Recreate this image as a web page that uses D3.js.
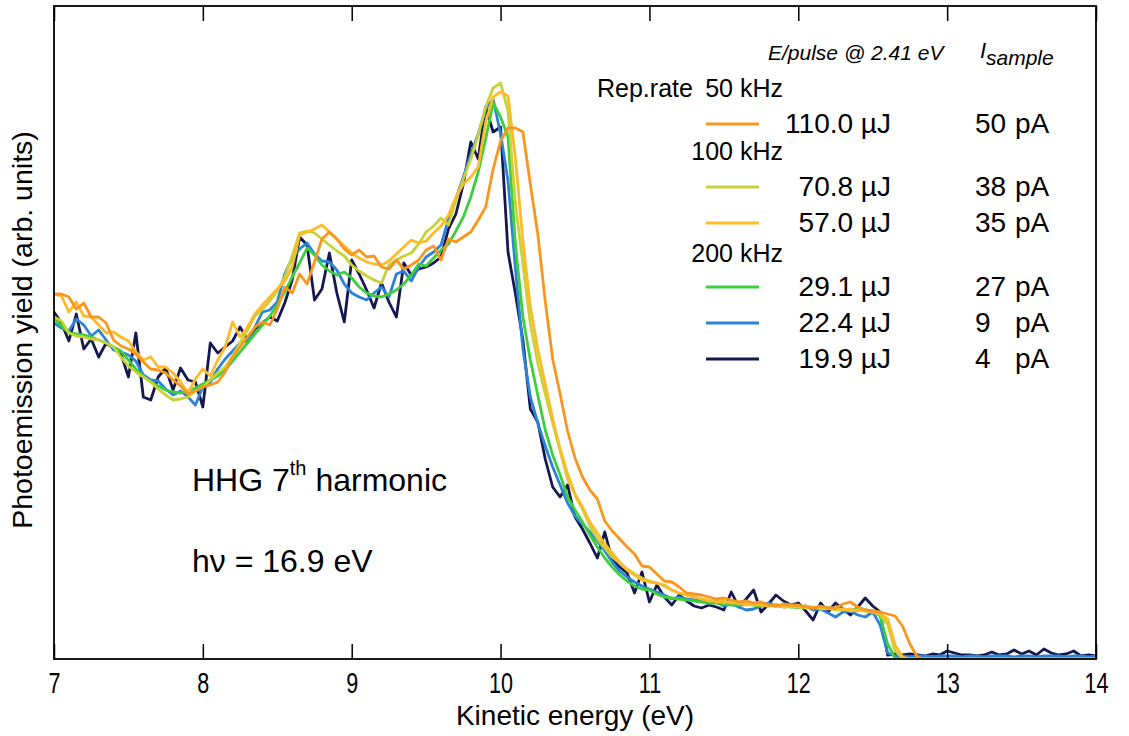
<!DOCTYPE html>
<html lang="en">
<head>
<meta charset="UTF-8">
<title>HHG 7th harmonic photoemission</title>
<script src="https://cdn.jsdelivr.net/npm/d3@7"></script>
<style>
  body { margin: 0; background: #fff; }
  svg { display: block; font-family: "Liberation Sans", Arial, sans-serif; }
</style>
</head>
<body>
<svg id="chart" width="1129" height="736"></svg>
<script>
  // spectra sampled every 0.05 eV from 7 to 14 eV (arb. units)
  const energyStart = 7, energyStep = 0.05;

  const yield110 = [
    365,365,362,350,356,342,342,336,319,313,310,305,297,290,289,286,279,273,265,268,
    272,274,277,287,302,312,322,332,337,334,350,372,366,385,375,397,420,427,420,410,
    404,409,402,403,392,390,399,390,394,399,409,413,399,420,417,422,427,439,452,490,
    518,531,531,527,475,425,358,300,265,228,201,182,169,160,138,128,120,112,105,93,
    92,85,78,77,72,66,65,64,62,60,61,59,57,58,56,57,54,53,55,54,
    54,52,51,53,51,51,55,57,52,49,48,47,45,43,33,15,2,0,0,0,
    0,0,0,0,0,0,0,0,0,0,0,0,0,0,0,0,0,0,0,0,0];
  const yield708 = [
    342,338,326,323,322,320,319,316,312,302,293,287,282,277,270,264,259,260,262,268,
    272,279,286,292,303,316,329,343,350,358,368,382,403,426,428,426,420,414,408,403,
    394,388,383,379,376,394,399,403,406,415,427,433,441,434,459,480,500,524,552,571,
    576,548,455,395,335,296,265,236,208,180,164,150,133,120,111,102,96,90,85,81,
    78,76,73,69,66,64,62,60,58,59,56,58,55,56,54,55,53,54,52,53,
    52,51,52,50,51,49,50,48,49,48,47,44,35,8,1,0,0,0,0,0,
    0,0,0,0,0,0,0,0,0,0,0,0,0,0,0,0,0,0,0,0,0];
  const yield570 = [
    365,363,347,357,343,342,334,326,327,322,318,307,299,302,292,292,286,277,266,280,
    290,283,299,312,337,322,332,345,354,362,370,378,392,424,427,430,434,427,420,413,
    406,401,397,395,394,398,405,412,419,416,418,426,433,444,462,475,482,492,537,562,
    567,563,500,418,352,310,275,240,210,185,165,152,137,126,115,106,97,89,84,79,
    77,76,74,69,66,64,62,60,59,57,58,56,57,54,55,54,53,55,52,53,
    52,53,51,52,50,51,49,50,48,49,47,45,40,14,2,0,0,0,0,0,
    0,0,0,0,0,0,0,0,0,0,0,0,0,0,0,0,0,0,0,0,0];
  const yield291 = [
    341,333,326,325,324,322,319,316,312,308,299,290,283,277,273,269,267,266,268,271,
    275,279,283,289,298,307,316,325,334,343,354,367,382,396,411,404,394,388,384,387,
    381,372,366,363,362,365,369,375,384,395,393,401,409,415,428,442,462,487,520,556,
    542,522,414,342,299,264,229,204,184,162,149,137,124,112,101,92,84,78,73,70,
    69,65,62,61,60,59,58,57,56,56,55,54,54,55,54,53,54,53,53,52,
    52,53,51,52,51,50,50,49,50,49,48,43,15,1,0,0,0,0,0,0,
    0,0,0,0,0,0,0,0,0,0,0,0,0,0,0,0,0,0,0,0,0];
  const yield224 = [
    336,331,328,340,334,323,329,319,309,307,304,298,284,279,278,270,264,268,262,254,
    272,277,290,300,308,316,318,332,347,349,357,385,401,410,416,405,398,397,389,375,
    366,362,359,366,372,362,385,388,378,392,402,407,414,440,460,482,505,525,550,560,
    525,478,390,310,262,236,213,192,174,156,143,135,127,118,108,97,88,82,77,73,
    70,67,64,60,62,60,59,59,56,57,53,55,52,49,50,53,56,54,52,53,
    51,53,49,50,46,42,47,48,44,42,47,34,6,3,3,2,3,3,2,3,
    3,3,2,3,3,2,3,3,3,2,3,3,2,3,3,3,2,3,3,2,3];
  const yield199 = [
    347,336,318,345,310,320,302,316,311,305,282,326,262,259,282,291,269,291,279,277,
    252,316,306,312,318,332,319,330,336,342,338,356,379,422,414,359,370,406,366,337,
    399,385,369,351,376,357,342,396,384,390,392,396,402,430,445,475,517,500,552,527,
    532,407,365,319,250,237,200,172,162,174,142,130,116,101,127,99,92,86,66,87,
    57,74,62,54,64,58,53,51,54,52,49,67,52,60,69,47,55,64,58,54,
    56,48,39,56,47,56,50,44,52,61,53,47,4,5,4,5,4,3,5,4,
    8,6,4,4,3,4,7,4,5,9,5,8,4,10,6,4,5,8,3,4,3];

  const pulseEnergy = ["110.0 µJ", "70.8 µJ", "57.0 µJ", "29.1 µJ", "22.4 µJ", "19.9 µJ"];
  const sampleCurrent = ["50", "38", "35", "27", "9", "4"];
  const repRates = ["50 kHz", "100 kHz", "200 kHz"];
  const lineColors = ["#f8961e", "#c6d236", "#fdbb2a", "#3dce3d", "#2b83d8", "#15174f"];
  const xTicks = [7, 8, 9, 10, 11, 12, 13, 14];

  const series = [yield110, yield708, yield570, yield291, yield224, yield199];
  const energies = d3.range(yield110.length).map(i => energyStart + i * energyStep);

  const svg = d3.select("#chart");
  const plotLeft = 54, plotRight = 1096, plotTop = 6, plotBottom = 659;

  const x = d3.scaleLinear().domain([7, 14]).range([plotLeft, plotRight]);
  const y = d3.scaleLinear().domain([0, 653]).range([plotBottom, plotTop]);

  svg.append("rect").attr("width", 1129).attr("height", 736).attr("fill", "#fff");

  svg.append("clipPath").attr("id", "plot-clip")
    .append("rect").attr("x", plotLeft).attr("y", plotTop)
    .attr("width", plotRight - plotLeft).attr("height", plotBottom - plotTop);

  // spectra, navy first so the high-power curves sit on top
  const line = d3.line()
    .x((d, i) => x(energies[i]))
    .y(d => y(d));

  const order = [5, 4, 3, 1, 2, 0];
  svg.append("g").attr("clip-path", "url(#plot-clip)")
    .selectAll("path")
    .data(order)
    .join("path")
    .attr("d", k => line(series[k]))
    .attr("fill", "none")
    .attr("stroke", k => lineColors[k])
    .attr("stroke-width", 2.8)
    .attr("stroke-linejoin", "round");

  // axes
  const xAxis = svg.append("g")
    .attr("transform", `translate(0,${plotBottom})`)
    .call(d3.axisBottom(x).tickValues(xTicks).tickFormat(d3.format("d"))
      .tickSizeInner(-15).tickSizeOuter(0).tickPadding(13));
  xAxis.select(".domain").remove();
  xAxis.selectAll("line").attr("stroke", "#000").attr("stroke-width", 1.5);
  xAxis.selectAll("text")
    .attr("font-size", 30)
    .attr("font-family", "Liberation Sans, Arial, sans-serif")
    .attr("fill", "#000")
    .attr("transform", "scale(0.72,1)");

  const topAxis = svg.append("g")
    .attr("transform", `translate(0,${plotTop})`)
    .call(d3.axisTop(x).tickValues(xTicks).tickSizeInner(-15).tickSizeOuter(0).tickFormat(""));
  topAxis.select(".domain").remove();
  topAxis.selectAll("line").attr("stroke", "#000").attr("stroke-width", 1.5);

  svg.append("rect")
    .attr("x", plotLeft).attr("y", plotTop)
    .attr("width", plotRight - plotLeft).attr("height", plotBottom - plotTop)
    .attr("fill", "none").attr("stroke", "#000").attr("stroke-width", 1.8);

  svg.append("text")
    .attr("x", (plotLeft + plotRight) / 2).attr("y", 725)
    .attr("text-anchor", "middle").attr("font-size", 28)
    .text("Kinetic energy (eV)");

  svg.append("text")
    .attr("transform", "rotate(-90)")
    .attr("x", -330).attr("y", 32)
    .attr("text-anchor", "middle").attr("font-size", 28.5)
    .text("Photoemission yield (arb. units)");

  // annotation
  const hhg = svg.append("text").attr("x", 192).attr("y", 491).attr("font-size", 32);
  hhg.append("tspan").text("HHG 7");
  hhg.append("tspan").attr("font-size", 20).attr("dy", -16).text("th");
  hhg.append("tspan").attr("dy", 16).text(" harmonic");

  svg.append("text").attr("x", 192).attr("y", 572).attr("font-size", 32)
    .text("hν = 16.9 eV");

  // legend
  const legend = svg.append("g");
  legend.append("text").attr("x", 768).attr("y", 60)
    .attr("font-size", 21).attr("font-style", "italic")
    .text("E/pulse @ 2.41 eV");
  legend.append("text").attr("x", 980).attr("y", 58)
    .attr("font-size", 22).attr("font-style", "italic").text("I");
  legend.append("text").attr("x", 986).attr("y", 65)
    .attr("font-size", 21).attr("font-style", "italic").text("sample");

  legend.append("text").attr("x", 597).attr("y", 97).attr("font-size", 25).text("Rep.rate");
  const rateRows = [97, 160, 262];
  legend.selectAll("text.rate")
    .data(repRates)
    .join("text")
    .attr("class", "rate")
    .attr("x", 783).attr("y", (d, i) => rateRows[i])
    .attr("text-anchor", "end").attr("font-size", 25)
    .text(d => d);

  const entryRows = [124, 187, 223, 287, 323, 359];
  const entries = legend.selectAll("g.entry")
    .data(pulseEnergy)
    .join("g")
    .attr("class", "entry")
    .attr("transform", (d, i) => `translate(0,${entryRows[i]})`);
  entries.append("line")
    .attr("x1", 706).attr("x2", 759)
    .attr("stroke", (d, i) => lineColors[i]).attr("stroke-width", 3);
  entries.append("text")
    .attr("x", 891).attr("y", 9).attr("text-anchor", "end").attr("font-size", 28)
    .text(d => d);
  entries.append("text")
    .attr("x", 975).attr("y", 9).attr("font-size", 28)
    .text((d, i) => sampleCurrent[i]);
  entries.append("text")
    .attr("x", 1015).attr("y", 9).attr("font-size", 28)
    .text("pA");
</script>
</body>
</html>
